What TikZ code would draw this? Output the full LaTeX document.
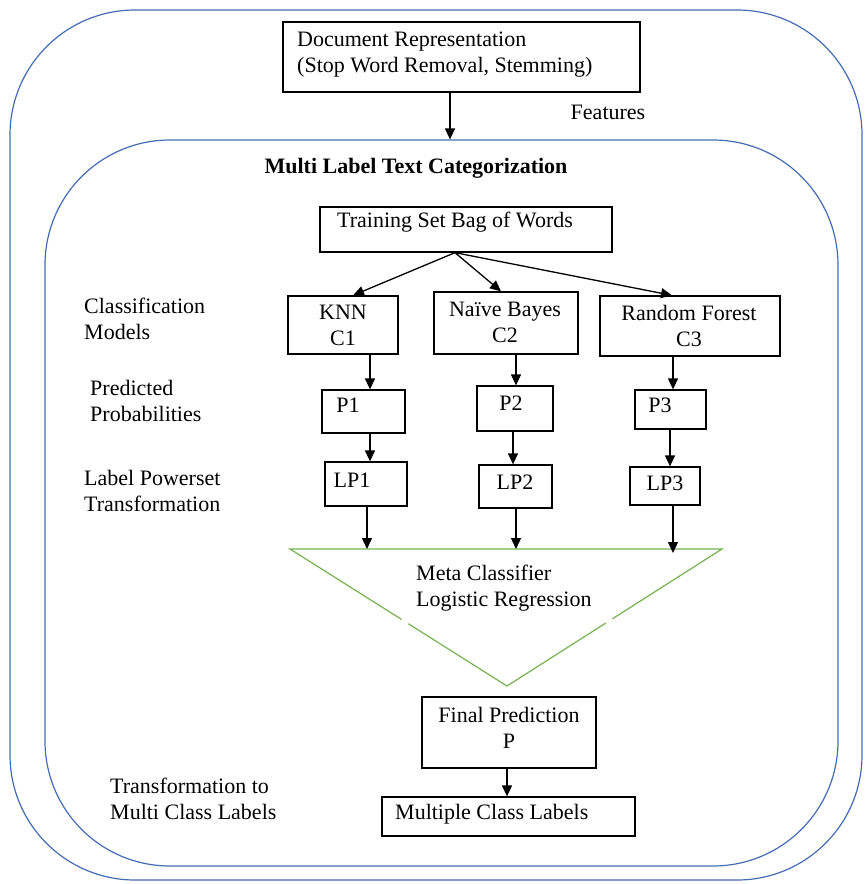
\documentclass[tikz,border=0pt]{standalone}
\usepackage{fontspec}
\setmainfont{Liberation Serif}
\usetikzlibrary{arrows.meta,calc}
\definecolor{frameblue}{RGB}{68,108,180}
\definecolor{metagreen}{RGB}{118,178,80}
\begin{document}
\begin{tikzpicture}[x=1pt,y=-1pt,
  every node/.style={font=\fontsize{22}{26}\selectfont},
  box/.style={draw=black,line width=1.3pt,inner sep=0pt,rectangle},
  frame/.style={draw=frameblue,line width=1.2pt,inner sep=0pt,rectangle,rounded corners=125pt},
  txt/.style={inner sep=0pt},
  arr/.style={draw=black,line width=1.3pt,-{Triangle[length=11pt,width=10pt]}}]
\useasboundingbox (0,0) rectangle (866,884);

% outer and inner frames
\node[frame,minimum width=852pt,minimum height=870pt] (outer) at (436,445) {};
\node[frame,minimum width=793pt,minimum height=726pt] (inner) at (441.5,503) {};

% boxes: node at centre, sized by width/height
\node[box,minimum width=357pt,minimum height=70pt] (doc) at (461.5,57) {};
\node[box,minimum width=292pt,minimum height=45pt] (train) at (466,229.5) {};
\node[box,minimum width=110pt,minimum height=58pt] (knn) at (343,325) {};
\node[box,minimum width=144pt,minimum height=62pt] (nb) at (506,323) {};
\node[box,minimum width=180pt,minimum height=60pt] (rf) at (690,326) {};
\node[box,minimum width=83pt,minimum height=43pt] (p1) at (363.5,411.5) {};
\node[box,minimum width=76pt,minimum height=45pt] (p2) at (515,408.5) {};
\node[box,minimum width=71pt,minimum height=39pt] (p3) at (670.5,409.5) {};
\node[box,minimum width=82pt,minimum height=44pt] (lp1) at (366,484) {};
\node[box,minimum width=73pt,minimum height=43pt] (lp2) at (515.5,486.5) {};
\node[box,minimum width=70pt,minimum height=38pt] (lp3) at (665,486) {};
\node[box,minimum width=174pt,minimum height=71pt] (final) at (509,732.5) {};
\node[box,minimum width=253pt,minimum height=39pt] (multi) at (508.5,816.5) {};

% meta classifier triangle, with the two small breaks in its sides
\coordinate (tl) at (290,549);
\coordinate (tr) at (722,549);
\coordinate (tb) at (507,686);
\draw[metagreen,line width=1.2pt,line join=miter] (tl) -- (tr) -- (tb) -- cycle;
\draw[white,line width=3pt] ($(tl)!0.515!(tb)$) -- ($(tl)!0.545!(tb)$);
\draw[white,line width=3pt] ($(tr)!0.51!(tb)$) -- ($(tr)!0.54!(tb)$);

% texts
\node[txt,anchor=west,align=left] (doctxt) at (297,55) {Document Representation\\(Stop Word Removal, Stemming)};
\node[txt] (feat) at (608,112) {Features};
\node[txt,font=\fontsize{22}{26}\selectfont\bfseries] (mltc) at (416,168) {Multi Label Text Categorization};
\node[txt] (traintxt) at (455,222) {Training Set Bag of Words};
\node[txt,align=center] (knntxt) at (343,325) {KNN\\C1};
\node[txt,align=center] (nbtxt) at (505,322) {Naïve Bayes\\C2};
\node[txt,align=center] (rftxt) at (689,325.5) {Random Forest\\C3};
\node[txt] (p1txt) at (348,405) {P1};
\node[txt] (p2txt) at (511,403) {P2};
\node[txt] (p3txt) at (660,405) {P3};
\node[txt] (lp1txt) at (352,480) {LP1};
\node[txt] (lp2txt) at (515,482) {LP2};
\node[txt] (lp3txt) at (665,483) {LP3};
\node[txt,anchor=west,align=left] (metatxt) at (416,588) {Meta Classifier\\Logistic Regression};
\node[txt,align=center] (finaltxt) at (509,728) {Final Prediction\\P};
\node[txt,anchor=west] (multitxt) at (395,814) {Multiple Class Labels};

% row labels
\node[txt,anchor=west,align=left] (lclass) at (84,319) {Classification\\Models};
\node[txt,anchor=west,align=left] (lpred) at (90,401) {Predicted\\Probabilities};
\node[txt,anchor=west,align=left] (llp) at (84,491) {Label Powerset\\Transformation};
\node[txt,anchor=west,align=left] (ltrans) at (110,799) {Transformation to\\Multi Class Labels};

% column guides
\coordinate (c1) at (370,0);
\coordinate (c2) at (516,0);
\coordinate (c3) at (673,0);
\coordinate (fan) at (455,0);

% connectors
\draw[arr] (doc.south -| 450,0) -- (inner.north -| 450,0);
\draw[arr] (train.south -| fan) -- ([xshift=10pt]knn.north);
\draw[arr] (train.south -| fan) -- ([xshift=-5pt]nb.north);
\draw[arr] (train.south -| fan) -- ([xshift=-18pt]rf.north);
\draw[arr] (knn.south -| c1) -- (p1.north -| c1);
\draw[arr] (nb.south -| c2) -- (p2.north -| c2);
\draw[arr] (rf.south -| c3) -- (p3.north -| c3);
\draw[arr] (p1.south -| c1) -- (lp1.north -| c1);
\draw[arr] (p2.south -| 513,0) -- (lp2.north -| 513,0);
\draw[arr] (p3.south -| 670,0) -- (lp3.north -| 670,0);
\draw[arr] (lp1.south -| 367,0) -- (tl -| 367,0);
\draw[arr] (lp2.south -| c2) -- (tl -| c2);
\draw[arr] (lp3.south -| c3) -- ([yshift=-4pt]tl -| c3);
\draw[arr] (final.south -| tb) -- (multi.north -| tb);
\end{tikzpicture}
\end{document}
